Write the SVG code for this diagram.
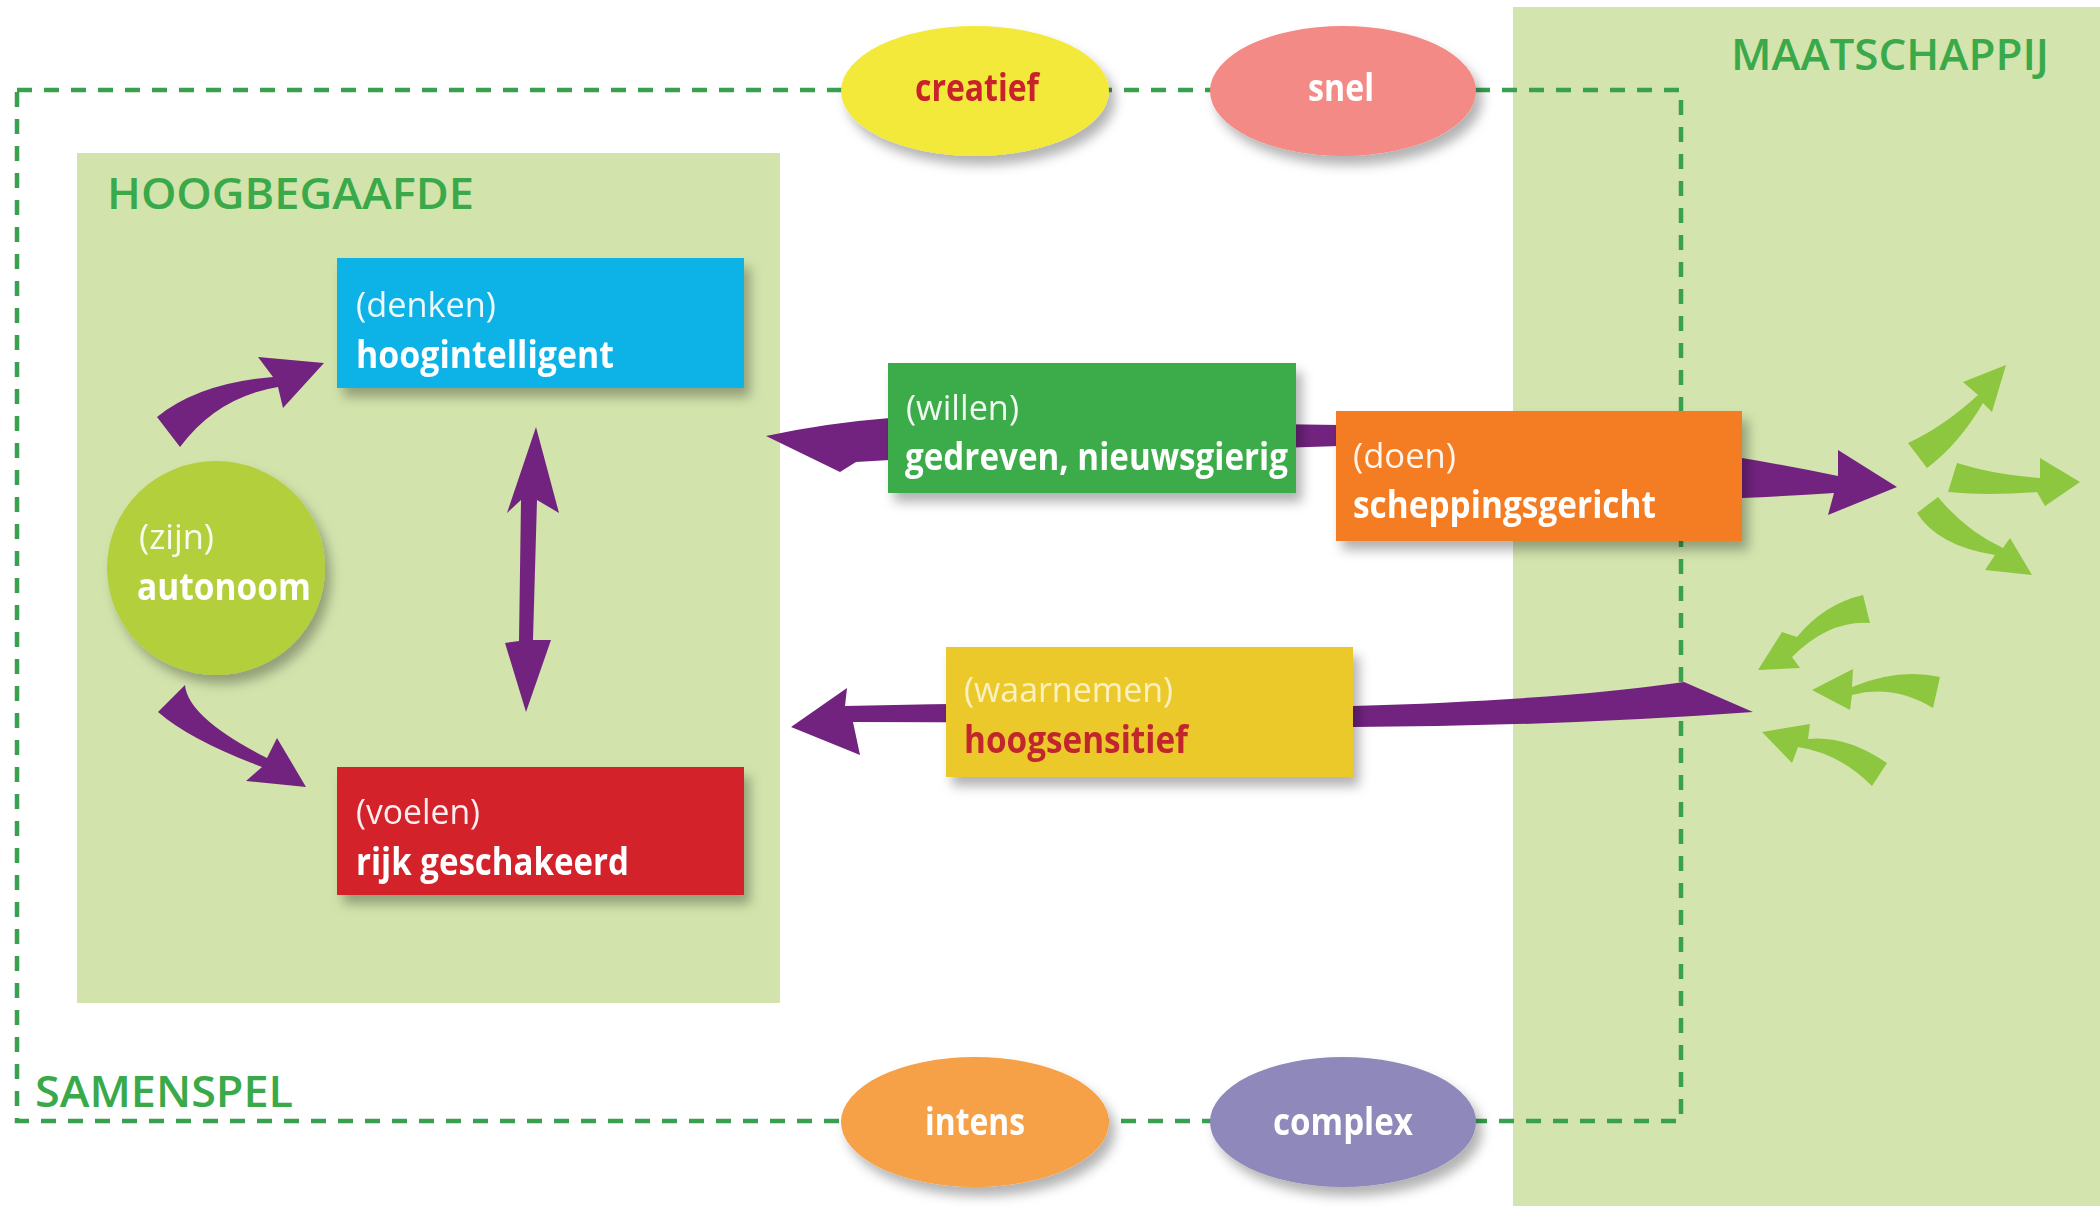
<svg xmlns="http://www.w3.org/2000/svg" width="2100" height="1206" viewBox="0 0 2100 1206">
<defs>
<style>
.t{font-family:"Open Sans","Liberation Sans",sans-serif}
.sub{font-size:34px;font-weight:400;fill:#ffffff;fill-opacity:0.92}
.main{font-size:37px;font-weight:700;fill:#ffffff}
.hdr{font-size:44px;font-weight:600;fill:#3aa94a}
.ell{font-size:37px;font-weight:700;fill:#ffffff;text-anchor:middle}
.purple{fill:#72237f}
.lime{fill:#8dc63f}
</style>
<filter id="sh" x="-20%" y="-20%" width="150%" height="170%">
<feDropShadow dx="6" dy="9" stdDeviation="6" flood-color="#000000" flood-opacity="0.3"/>
</filter>
</defs>
<rect width="2100" height="1206" fill="#ffffff"/>
<g id="maatschappij">
<rect x="1513" y="7" width="587" height="1199" fill="#d3e4ae"/>
<text class="t hdr" x="1731" y="70" textLength="318" lengthAdjust="spacingAndGlyphs">MAATSCHAPPIJ</text>
</g>
<g id="hoogbegaafde">
<rect x="77" y="153" width="703" height="850" fill="#d2e4ac"/>
<text class="t hdr" x="107" y="209" textLength="367" lengthAdjust="spacingAndGlyphs">HOOGBEGAAFDE</text>
</g>
<g id="samenspel">
<rect x="17" y="90" width="1664" height="1031" fill="none" stroke="#38a04f" stroke-width="4.5" stroke-dasharray="15 12"/>
<text class="t hdr" x="35" y="1107" textLength="258" lengthAdjust="spacingAndGlyphs">SAMENSPEL</text>
</g>
<g id="creatief" filter="url(#sh)">
<ellipse cx="975" cy="91" rx="134" ry="65" fill="#f2e93b"/>
<text class="t ell" x="977" y="101" textLength="124" lengthAdjust="spacingAndGlyphs" style="fill:#c8222b">creatief</text>
</g>
<g id="snel" filter="url(#sh)">
<ellipse cx="1343" cy="91" rx="133" ry="65" fill="#f38a86"/>
<text class="t ell" x="1341" y="101" textLength="66" lengthAdjust="spacingAndGlyphs">snel</text>
</g>
<g id="intens" filter="url(#sh)">
<ellipse cx="975" cy="1122" rx="134" ry="65" fill="#f6a046"/>
<text class="t ell" x="975" y="1135" textLength="100" lengthAdjust="spacingAndGlyphs">intens</text>
</g>
<g id="complex" filter="url(#sh)">
<ellipse cx="1343" cy="1122" rx="133" ry="65" fill="#8e88bb"/>
<text class="t ell" x="1343" y="1135" textLength="140" lengthAdjust="spacingAndGlyphs">complex</text>
</g>
<g id="connectors">
<path class="purple" d="M157,417 Q199,383 273,377 L258,357 L324,363 L283,408 L278,387 Q217,397 180,447 Z"/>
<path class="purple" d="M185,685 Q188,718 267,758 L277,738 L306,787 L246,781 L262,767 Q190,740 158,712 Z"/>
<path class="purple" d="M536,427 L559,513 L537,500 L533,640 L551,640 L526,712 L505,643 L519,641 L521,500 L507,513 Z"/>
<path class="purple" d="M766,436 Q826,423 890,418 L1340,425 L1340,446 L890,460 L856,462 L840,472 Z"/>
<path class="purple" d="M1742,458 Q1790,466 1838,476 L1838,450 L1897,487 L1828,515 L1834,493 Q1790,496 1742,498 Z"/>
<path class="purple" d="M791,727 L847,688 L845,706 Q1100,700 1353,706 Q1560,700 1684,682 L1753,712 Q1560,726 1353,727 Q1100,722 853,722 L860,755 Z"/>
<path class="lime" d="M1908,443 Q1943,427 1978,395 L1963,382 L2006,365 L1992,412 L1983,403 Q1959,444 1927,468 Z"/>
<path class="lime" d="M1957,463 Q1995,475 2040,478 L2040,458 L2080,482 L2045,506 L2037,492 Q1988,496 1948,492 Z"/>
<path class="lime" d="M1938,497 Q1966,531 2003,548 L2010,538 L2032,575 L1985,570 L1995,555 Q1938,546 1917,513 Z"/>
<path class="lime" d="M1863,595 Q1824,604 1797,637 L1782,632 L1758,670 L1800,668 L1792,657 Q1829,620 1870,623 Z"/>
<path class="lime" d="M1940,677 Q1898,668 1852,687 L1853,669 L1812,690 L1850,710 L1852,695 Q1893,684 1933,708 Z"/>
<path class="lime" d="M1887,763 Q1846,735 1808,739 L1810,724 L1762,732 L1792,763 L1798,747 Q1839,753 1872,786 Z"/>
</g>
<g id="denken" filter="url(#sh)">
<rect x="337" y="258" width="407" height="130" fill="#0db2e7"/>
<text class="t sub" x="356" y="317" textLength="140" lengthAdjust="spacingAndGlyphs">(denken)</text>
<text class="t main" x="356" y="368" textLength="258" lengthAdjust="spacingAndGlyphs">hoogintelligent</text>
</g>
<g id="voelen" filter="url(#sh)">
<rect x="337" y="767" width="407" height="128" fill="#d3202a"/>
<text class="t sub" x="356" y="824" textLength="124" lengthAdjust="spacingAndGlyphs">(voelen)</text>
<text class="t main" x="356" y="875" textLength="273" lengthAdjust="spacingAndGlyphs">rijk geschakeerd</text>
</g>
<g id="willen" filter="url(#sh)">
<rect x="888" y="363" width="408" height="130" fill="#3bac49"/>
<text class="t sub" x="906" y="420" textLength="113" lengthAdjust="spacingAndGlyphs">(willen)</text>
<text class="t main" x="905" y="470" textLength="383" lengthAdjust="spacingAndGlyphs">gedreven, nieuwsgierig</text>
</g>
<g id="doen" filter="url(#sh)">
<rect x="1336" y="411" width="406" height="130" fill="#f47b20"/>
<text class="t sub" x="1353" y="468" textLength="103" lengthAdjust="spacingAndGlyphs">(doen)</text>
<text class="t main" x="1353" y="518" textLength="303" lengthAdjust="spacingAndGlyphs">scheppingsgericht</text>
</g>
<g id="waarnemen" filter="url(#sh)">
<rect x="946" y="647" width="407" height="130" fill="#ecc92c"/>
<text class="t sub" x="964" y="702" textLength="209" lengthAdjust="spacingAndGlyphs" style="fill:#fbf0c0;fill-opacity:1">(waarnemen)</text>
<text class="t main" x="964" y="753" textLength="224" lengthAdjust="spacingAndGlyphs" style="fill:#c1272d">hoogsensitief</text>
</g>
<g id="zijn" filter="url(#sh)">
<ellipse cx="216" cy="568" rx="109" ry="107" fill="#b3cf3a"/>
<text class="t sub" x="139" y="549" textLength="75" lengthAdjust="spacingAndGlyphs">(zijn)</text>
<text class="t main" x="137" y="600" textLength="174" lengthAdjust="spacingAndGlyphs">autonoom</text>
</g>
</svg>
